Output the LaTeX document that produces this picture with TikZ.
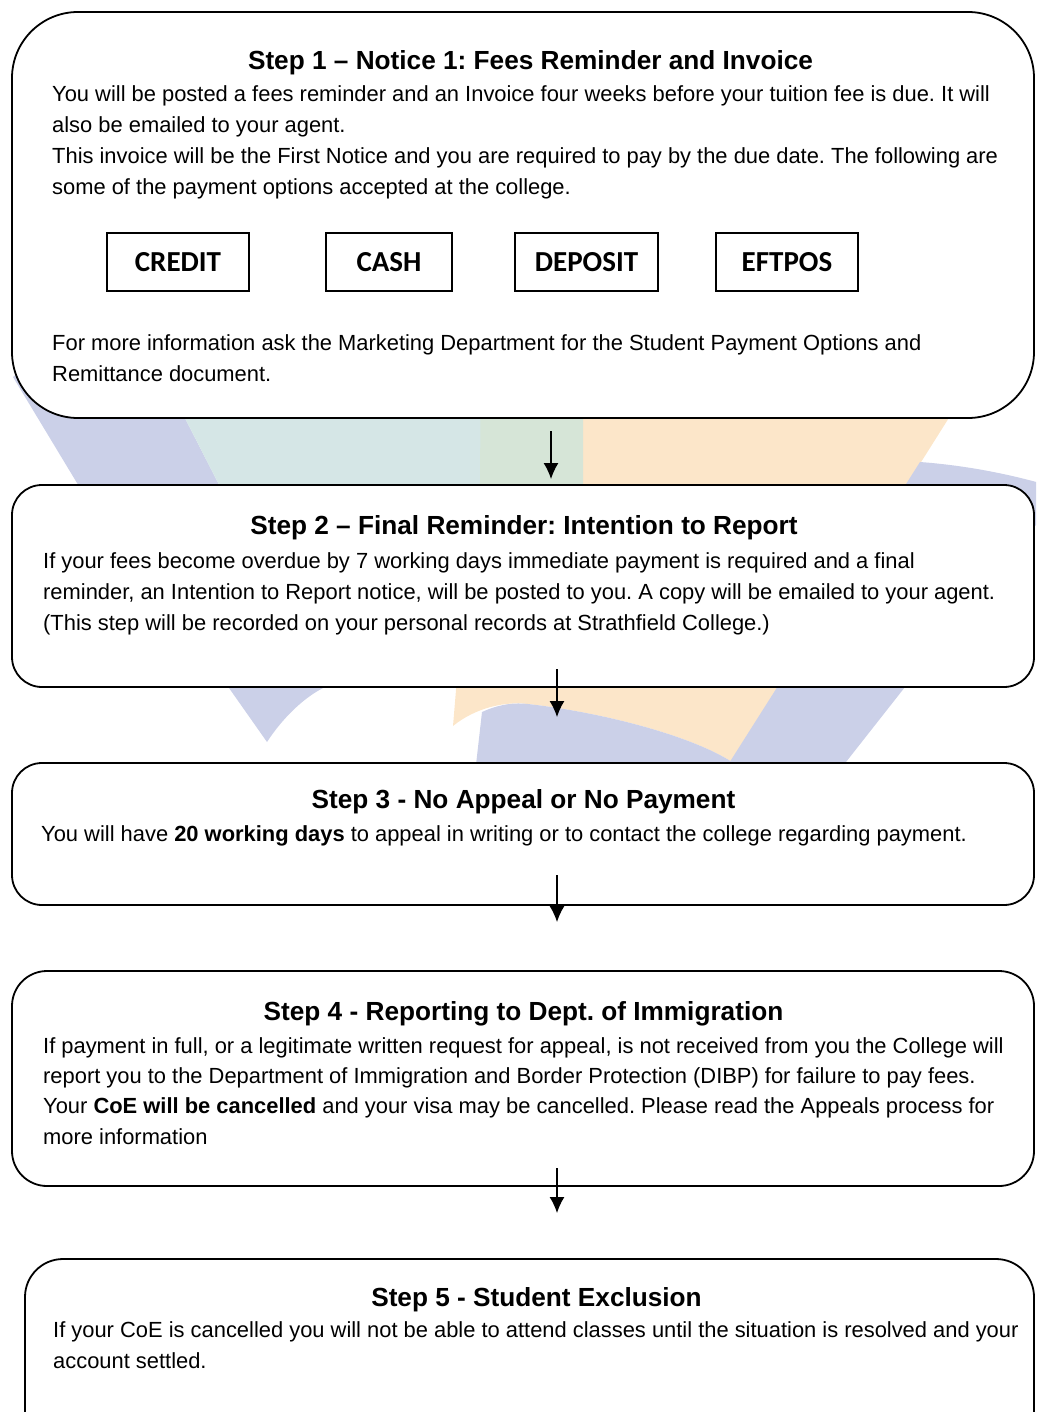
\documentclass[tikz,border=0pt]{standalone}
\usepackage{fontspec}
\setmainfont{Liberation Sans}
\newfontfamily\calibfont{Carlito}
\usetikzlibrary{arrows.meta}
\definecolor{lav}{RGB}{203,208,232}
\definecolor{tealbg}{RGB}{213,230,230}
\definecolor{grn}{RGB}{214,229,215}
\definecolor{org}{RGB}{252,230,201}
\frenchspacing
\begin{document}
\begin{tikzpicture}[x=1pt,y=-1pt,
  stepbox/.style={draw=black, line width=1.8pt, fill=white, inner sep=0pt},
  paybox/.style={draw=black, line width=1.8pt, fill=white, minimum height=58pt, inner sep=0pt, font=\calibfont\bfseries\fontsize{29}{30}\selectfont},
  head/.style={anchor=base, inner sep=0pt, font=\bfseries\fontsize{26.2}{30}\selectfont},
  body/.style={anchor=base west, inner sep=0pt, font=\fontsize{21.9}{26}\selectfont},
  flow/.style={-{Latex[length=16pt,width=15pt]}, line width=1.3pt}
]
\useasboundingbox (0,0) rectangle (1036,1412);
\clip (0,0) rectangle (1036,1412);
% ---------- watermark ----------
\fill[lav] (13,377) -- (77,483) -- (229,688) -- (267,742) .. controls (280,722) and (300,700) .. (323,688) -- (145,340) -- (60,340) -- cycle;
\fill[tealbg] (145,340) -- (583,340) -- (583,600) -- (278,600) -- cycle;
\fill[org] (485,340) -- (998,340) -- (732,762) .. controls (690,735) and (600,712) .. (528,704) .. controls (505,701) and (475,708) .. (453,726) -- (456,690) -- (480,483) -- cycle;
\fill[grn] (481,340) -- (583,340) -- (583,600) -- (470,600) -- (480,483) -- cycle;
\fill[lav] (482,712) .. controls (495,706) and (510,702) .. (528,704) .. controls (600,712) and (690,735) .. (732,762) -- (760,800) -- (472,800) -- cycle;
\fill[lav] (920,462) .. controls (960,465) and (1000,472) .. (1040,483) -- (1040,520) -- (905,687) -- (846,762) -- (800,820) -- (693,820) -- cycle;
% ---------- boxes ----------
\node[stepbox, rounded corners=66pt, minimum width=1022pt, minimum height=406pt] (box1) at (523,215) {};
\node[stepbox, rounded corners=30pt, minimum width=1022pt, minimum height=202pt] (box2) at (523,586) {};
\node[stepbox, rounded corners=30pt, minimum width=1022pt, minimum height=142pt] (box3) at (523,834) {};
\node[stepbox, rounded corners=35pt, minimum width=1022pt, minimum height=215pt] (box4) at (523,1078.5) {};
\node[stepbox, rounded corners=38pt, minimum width=1009pt, minimum height=211pt] (box5) at (529.5,1364.5) {};
% ---------- step 1 ----------
\node[head] (h1) at (530.5,70) {Step 1 – Notice 1: Fees Reminder and Invoice};
\node[body] (t1a) at (52,102) {You will be posted a fees reminder and an Invoice four weeks before your tuition fee is due. It will};
\node[body] (t1b) at (52,133) {also be emailed to your agent.};
\node[body] (t1c) at (52,164) {This invoice will be the First Notice and you are required to pay by the due date. The following are};
\node[body] (t1d) at (52,195) {some of the payment options accepted at the college.};
\node[paybox, minimum width=142pt] (credit) at (178,262) {CREDIT};
\node[paybox, minimum width=126pt] (cash) at (389,262) {CASH};
\node[paybox, minimum width=143pt] (deposit) at (586.5,262) {DEPOSIT};
\node[paybox, minimum width=142pt] (eftpos) at (787,262) {EFTPOS};
\node[body] (t1e) at (52,350) {For more information ask the Marketing Department for the Student Payment Options and};
\node[body] (t1f) at (52,381) {Remittance document.};
% ---------- step 2 ----------
\node[head] (h2) at (524,534) {Step 2 – Final Reminder: Intention to Report};
\node[body] (t2a) at (43,568) {If your fees become overdue by 7 working days immediate payment is required and a final};
\node[body] (t2b) at (43,599) {reminder, an Intention to Report notice, will be posted to you. A copy will be emailed to your agent.};
\node[body] (t2c) at (43,630) {(This step will be recorded on your personal records at Strathfield College.)};
% ---------- step 3 ----------
\node[head] (h3) at (523.5,808) {Step 3 - No Appeal or No Payment};
\node[body] (t3a) at (41,841) {You will have \textbf{20 working days} to appeal in writing or to contact the college regarding payment.};
% ---------- step 4 ----------
\node[head] (h4) at (523.5,1020) {Step 4 - Reporting to Dept. of Immigration};
\node[body] (t4a) at (43,1053) {If payment in full, or a legitimate written request for appeal, is not received from you the College will};
\node[body] (t4b) at (43,1083) {report you to the Department of Immigration and Border Protection (DIBP) for failure to pay fees.};
\node[body] (t4c) at (43,1113) {Your \textbf{CoE will be cancelled} and your visa may be cancelled. Please read the Appeals process for};
\node[body] (t4d) at (43,1144) {more information};
% ---------- step 5 ----------
\node[head] (h5) at (536.5,1306) {Step 5 - Student Exclusion};
\node[body] (t5a) at (53,1337) {If your CoE is cancelled you will not be able to attend classes until the situation is resolved and your};
\node[body] (t5b) at (53,1368) {account settled.};
% ---------- arrows ----------
\coordinate (a1s) at (551,431); \coordinate (a1e) at (551,479);
\coordinate (a2s) at (557,669); \coordinate (a2e) at (557,717);
\coordinate (a3s) at (557,875); \coordinate (a3e) at (557,922);
\coordinate (a4s) at (557,1168); \coordinate (a4e) at (557,1213);
\draw[flow] (a1s) -- (a1e);
\draw[flow] (a2s) -- (a2e);
\draw[flow] (a3s) -- (a3e);
\draw[flow] (a4s) -- (a4e);
\end{tikzpicture}
\end{document}
